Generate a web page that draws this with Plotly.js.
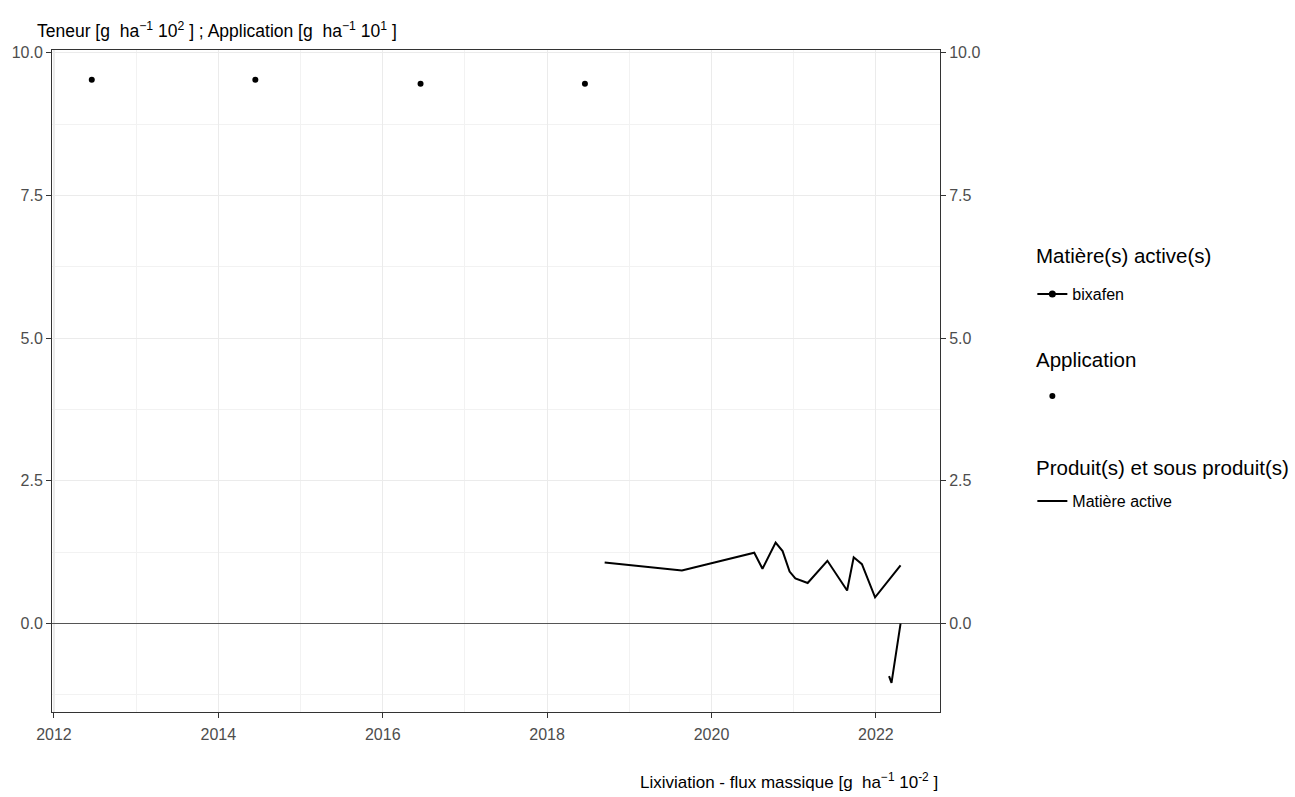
<!DOCTYPE html>
<html>
<head>
<meta charset="utf-8">
<script src="https://cdn.plot.ly/plotly-3.0.1.min.js"></script>
<style>html,body{margin:0;padding:0;background:#fff;}#chart{width:1295px;height:797px;}</style>
</head>
<body>
<div id="chart"></div>
<script>
// Application points (decimal year, value)
const appDates = [2012.46, 2014.45, 2016.46, 2018.46];
const appValues = [9.53, 9.53, 9.46, 9.46];

// Matière active leaching series (main path)
const maDates = [2018.70, 2019.64, 2020.52, 2020.62, 2020.78, 2020.865, 2020.95, 2021.02, 2021.17, 2021.41, 2021.65, 2021.73, 2021.83, 2021.99, 2022.30];
const maValues = [1.07, 0.93, 1.24, 0.96, 1.42, 1.27, 0.91, 0.79, 0.71, 1.10, 0.58, 1.16, 1.04, 0.46, 1.02];

// Matière active second segment
const ma2Dates = [2022.16, 2022.19, 2022.30];
const ma2Values = [-0.92, -1.04, 0.00];

const xTicks = [2012, 2014, 2016, 2018, 2020, 2022];
const yTicks = [0, 2.5, 5, 7.5, 10];
const yTickText = ["0.0", "2.5", "5.0", "7.5", "10.0"];

const legendTitles = ["Matière(s) active(s)", "Application", "Produit(s) et sous produit(s)"];

const font = "Liberation Sans, Arial, sans-serif";
const tickFont = {family: font, size: 16, color: "#4d4d4d"};
const xRange = [2011.976, 2022.78];
const yRange = [-1.55, 10.05];

const traces = [
  {x: [null], y: [null], type: "scatter", mode: "lines+markers", name: "bixafen",
   line: {color: "#000", width: 2}, marker: {color: "#000", size: 7}, legend: "legend", hoverinfo: "skip"},
  {x: appDates, y: appValues, type: "scatter", mode: "markers", name: " ",
   marker: {color: "#000", size: 6}, legend: "legend2"},
  {x: maDates, y: maValues, type: "scatter", mode: "lines", name: "Matière active",
   line: {color: "#000", width: 2}, legend: "legend3"},
  {x: ma2Dates, y: ma2Values, type: "scatter", mode: "lines", name: "Matière active",
   line: {color: "#000", width: 2}, showlegend: false},
  {x: [null], y: [null], type: "scatter", mode: "markers", yaxis: "y2", showlegend: false, hoverinfo: "skip"}
];

const legendBase = {
  x: 1.104, xanchor: "left", yanchor: "middle", bgcolor: "rgba(0,0,0,0)",
  font: {family: font, size: 16, color: "#000"}, itemwidth: 30
};

const titleFont = {family: font, size: 20.5, color: "#000"};

const layout = {
  width: 1295, height: 797,
  margin: {l: 52, r: 355, t: 50, b: 85},
  paper_bgcolor: "#fff", plot_bgcolor: "#fff",
  font: {family: font},
  xaxis: {
    range: xRange, tickvals: xTicks, ticktext: xTicks.map(String),
    tickfont: tickFont, ticks: "outside", ticklen: 5, tickcolor: "#333", tickwidth: 1,
    ticklabelstandoff: 3,
    showline: true, linecolor: "#333", linewidth: 1, mirror: true,
    showgrid: true, gridcolor: "#ebebeb", gridwidth: 1.2, zeroline: false,
    minor: {tickvals: [2013, 2015, 2017, 2019, 2021], showgrid: true, gridcolor: "#f2f2f2", gridwidth: 1}
  },
  yaxis: {
    range: yRange, tickvals: yTicks, ticktext: yTickText,
    tickfont: tickFont, ticks: "outside", ticklen: 5, tickcolor: "#333", tickwidth: 1,
    showline: true, linecolor: "#333", linewidth: 1, mirror: true,
    showgrid: true, gridcolor: "#ebebeb", gridwidth: 1.2,
    zeroline: true, zerolinecolor: "#555", zerolinewidth: 1.2,
    minor: {tickvals: [-1.25, 1.25, 3.75, 6.25, 8.75], showgrid: true, gridcolor: "#f2f2f2", gridwidth: 1}
  },
  yaxis2: {
    overlaying: "y", side: "right", range: yRange, tickvals: yTicks, ticktext: yTickText,
    tickfont: tickFont, ticks: "outside", ticklen: 5, tickcolor: "#333",
    showgrid: false, zeroline: false, showline: false
  },
  legend: Object.assign({}, legendBase, {y: 0.6314}),
  legend2: Object.assign({}, legendBase, {y: 0.4773}),
  legend3: Object.assign({}, legendBase, {y: 0.3187}),
  annotations: [
    {xref: "paper", yref: "paper", x: -0.019, y: 1.0302, xanchor: "left", yanchor: "middle", showarrow: false,
     text: "Teneur [g  ha<sup>−1</sup> 10<sup>2</sup> ] ; Application [g  ha<sup>−1</sup> 10<sup>1</sup> ]",
     font: {family: font, size: 17.5, color: "#000"}},
    {xref: "paper", yref: "paper", x: 1, y: -0.1042, xanchor: "right", yanchor: "middle", showarrow: false,
     text: "Lixiviation - flux massique [g  ha<sup>−1</sup> 10<sup>-2</sup> ]",
     font: {family: font, size: 17, color: "#000"}},
    {xref: "paper", yref: "paper", x: 1.1058, y: 0.6903, xanchor: "left", yanchor: "middle", showarrow: false,
     text: legendTitles[0], font: titleFont},
    {xref: "paper", yref: "paper", x: 1.1058, y: 0.5332, xanchor: "left", yanchor: "middle", showarrow: false,
     text: legendTitles[1], font: titleFont},
    {xref: "paper", yref: "paper", x: 1.1058, y: 0.3686, xanchor: "left", yanchor: "middle", showarrow: false,
     text: legendTitles[2], font: titleFont}
  ],
  showlegend: true
};

Plotly.newPlot("chart", traces, layout, {displayModeBar: false, staticPlot: true});
</script>
</body>
</html>
